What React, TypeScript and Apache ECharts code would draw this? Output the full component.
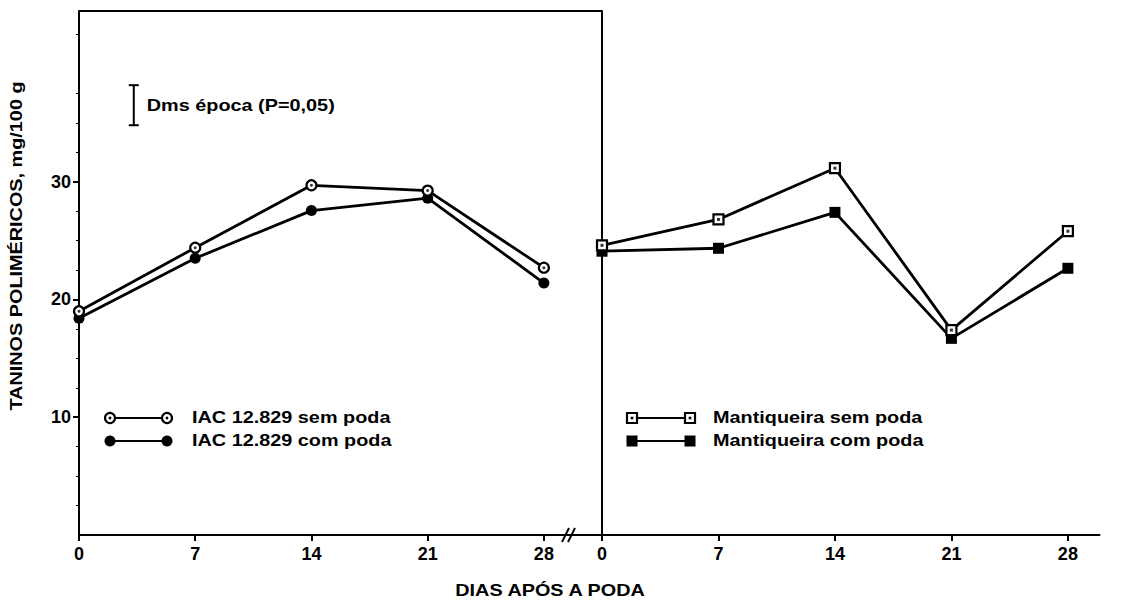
import { useEffect, useRef } from "react";
import * as echarts from "echarts";

// Sampling days after pruning
const days = [0, 7, 14, 21, 28];

// Polymeric tannins, mg/100 g
const iacSemPoda = [19.0, 24.4, 29.7, 29.25, 22.7];
const iacComPoda = [18.4, 23.5, 27.55, 28.6, 21.4];
const mantiqueiraSemPoda = [24.6, 26.8, 31.15, 17.4, 25.8];
const mantiqueiraComPoda = [24.1, 24.35, 27.4, 16.7, 22.65];

// Labelled ticks on the value axis
const yTickValues = [10, 20, 30];

// Least significant difference bar for sampling date (P=0.05)
const dmsBar = [[3.3, 34.8, 38.2]];

const yAxisTitle = "TANINOS POLIMÉRICOS, mg/100 g";
const xAxisTitle = "DIAS APÓS A PODA";
const dmsLabel = "Dms época (P=0,05)";
const legendIac = ["IAC 12.829 sem poda", "IAC 12.829 com poda"];
const legendMantiqueira = ["Mantiqueira sem poda", "Mantiqueira com poda"];

const FONT_FAMILY = '"Liberation Sans", Arial, Helvetica, sans-serif';
const TEXT_FONT = `bold 16px ${FONT_FAMILY}`;
const STRETCH = 1.24;
const BLACK = "#000";

const pairs = (vals: number[]) => days.map((d, i) => [d, vals[i]]);

const axisLabelStyle = {
  color: BLACK,
  fontFamily: FONT_FAMILY,
  fontWeight: "bold" as const,
  fontSize: 18,
};

function legendRow(
  x1: number,
  x2: number,
  y: number,
  label: string,
  textX: number,
  shape: "circle" | "rect",
  filled: boolean
) {
  const els: any[] = [
    {
      type: "line",
      shape: { x1, y1: y, x2, y2: y },
      style: { stroke: BLACK, lineWidth: 2 },
    },
  ];
  [x1, x2].forEach((cx) => {
    if (shape === "circle") {
      els.push({
        type: "circle",
        shape: { cx, cy: y, r: filled ? 5.5 : 5 },
        style: filled
          ? { fill: BLACK }
          : { fill: "#fff", stroke: BLACK, lineWidth: 2.2 },
      });
      if (!filled) {
        els.push({
          type: "circle",
          shape: { cx, cy: y, r: 1.4 },
          style: { fill: BLACK },
        });
      }
    } else {
      els.push({
        type: "rect",
        shape: filled
          ? { x: cx - 5.5, y: y - 5.5, width: 11, height: 11 }
          : { x: cx - 5, y: y - 5, width: 10, height: 10 },
        style: filled
          ? { fill: BLACK }
          : { fill: "#fff", stroke: BLACK, lineWidth: 2.2 },
      });
      if (!filled) {
        els.push({
          type: "rect",
          shape: { x: cx - 1.3, y: y - 1.3, width: 2.6, height: 2.6 },
          style: { fill: BLACK },
        });
      }
    }
  });
  els.push({
    type: "text",
    x: textX,
    y,
    scaleX: STRETCH,
    style: {
      text: label,
      font: TEXT_FONT,
      fill: BLACK,
      align: "left",
      textAlign: "left",
      verticalAlign: "middle",
      textVerticalAlign: "middle",
    },
  });
  return els;
}

export default function App() {
  const ref = useRef<HTMLDivElement>(null);

  useEffect(() => {
    if (!ref.current) return;
    const chart = echarts.init(ref.current, undefined, { renderer: "svg" });

    const xAxisBase = (gridIndex: number, max: number) => ({
      gridIndex,
      type: "value",
      min: 0,
      max,
      axisLine: { show: true, lineStyle: { color: BLACK, width: 2 } },
      axisTick: {
        show: true,
        customValues: days,
        length: 6,
        lineStyle: { color: BLACK, width: 2 },
      },
      axisLabel: { ...axisLabelStyle, customValues: days, margin: 10 },
      splitLine: { show: false },
    });

    const lineSeries = (
      axis: number,
      vals: number[],
      symbol: string,
      filled: boolean,
      z: number
    ) => ({
      type: "line",
      xAxisIndex: axis,
      yAxisIndex: axis,
      data: pairs(vals),
      symbol,
      symbolSize: filled ? 11 : 10,
      itemStyle: filled
        ? { color: BLACK }
        : { color: "#fff", borderColor: BLACK, borderWidth: 2.2 },
      lineStyle: { color: BLACK, width: 2.8 },
      z,
    });

    const centreDots = (axis: number, vals: number[], symbol: string) => ({
      type: "scatter",
      xAxisIndex: axis,
      yAxisIndex: axis,
      data: pairs(vals),
      symbol,
      symbolSize: 3,
      itemStyle: { color: BLACK },
      z: 5,
    });

    chart.setOption({
      animation: false,
      backgroundColor: "#fff",
      grid: [
        { left: 79, top: 11, width: 523, height: 524 },
        { left: 602, top: 11, width: 497.5, height: 524 },
      ],
      xAxis: [xAxisBase(0, 31.5), xAxisBase(1, 29.9)],
      yAxis: [
        {
          gridIndex: 0,
          type: "value",
          min: 0,
          max: 44.5,
          interval: 10,
          axisLine: { show: true, lineStyle: { color: BLACK, width: 2 } },
          axisTick: {
            show: true,
            customValues: yTickValues,
            length: 6,
            lineStyle: { color: BLACK, width: 2 },
          },
          minorTick: {
            show: true,
            splitNumber: 4,
            length: 3,
            lineStyle: { color: BLACK, width: 1 },
          },
          axisLabel: { ...axisLabelStyle, customValues: yTickValues, margin: 8 },
          splitLine: { show: false },
        },
        {
          gridIndex: 1,
          type: "value",
          min: 0,
          max: 44.5,
          axisLine: { show: true, lineStyle: { color: BLACK, width: 2 } },
          axisTick: { show: false },
          axisLabel: { show: false },
          splitLine: { show: false },
        },
      ],
      series: [
        lineSeries(0, iacComPoda, "circle", true, 2),
        lineSeries(0, iacSemPoda, "circle", false, 3),
        centreDots(0, iacSemPoda, "circle"),
        lineSeries(1, mantiqueiraComPoda, "rect", true, 2),
        lineSeries(1, mantiqueiraSemPoda, "rect", false, 3),
        centreDots(1, mantiqueiraSemPoda, "rect"),
        {
          type: "custom",
          xAxisIndex: 0,
          yAxisIndex: 0,
          data: dmsBar,
          z: 6,
          renderItem: (_params: any, api: any) => {
            const top = api.coord([api.value(0), api.value(2)]);
            const bot = api.coord([api.value(0), api.value(1)]);
            const cap = 5;
            const stroke = { stroke: BLACK, lineWidth: 2 };
            return {
              type: "group",
              children: [
                {
                  type: "line",
                  shape: { x1: top[0], y1: top[1], x2: bot[0], y2: bot[1] },
                  style: stroke,
                },
                {
                  type: "line",
                  shape: { x1: top[0] - cap, y1: top[1], x2: top[0] + cap, y2: top[1] },
                  style: stroke,
                },
                {
                  type: "line",
                  shape: { x1: bot[0] - cap, y1: bot[1], x2: bot[0] + cap, y2: bot[1] },
                  style: stroke,
                },
                {
                  type: "text",
                  x: top[0] + 13,
                  y: (top[1] + bot[1]) / 2,
                  scaleX: STRETCH,
                  style: {
                    text: dmsLabel,
                    font: TEXT_FONT,
                    fill: BLACK,
                    align: "left",
                    verticalAlign: "middle",
                  },
                },
              ],
            };
          },
        },
      ],
      graphic: [
        // upper frame of the left panel
        {
          type: "line",
          shape: { x1: 79, y1: 11, x2: 602, y2: 11 },
          style: { stroke: BLACK, lineWidth: 2 },
        },
        // axis break marks
        {
          type: "line",
          shape: { x1: 562, y1: 542, x2: 569, y2: 528 },
          style: { stroke: BLACK, lineWidth: 2 },
        },
        {
          type: "line",
          shape: { x1: 568, y1: 542, x2: 575, y2: 528 },
          style: { stroke: BLACK, lineWidth: 2 },
        },
        {
          type: "text",
          x: 17,
          y: 246,
          rotation: Math.PI / 2,
          scaleX: STRETCH,
          style: {
            text: yAxisTitle,
            font: TEXT_FONT,
            fill: BLACK,
            align: "center",
            textAlign: "center",
            verticalAlign: "middle",
            textVerticalAlign: "middle",
          },
        },
        {
          type: "text",
          x: 550,
          y: 591,
          scaleX: STRETCH,
          style: {
            text: xAxisTitle,
            font: TEXT_FONT,
            fill: BLACK,
            align: "center",
            textAlign: "center",
            verticalAlign: "middle",
            textVerticalAlign: "middle",
          },
        },
        ...legendRow(110, 167, 418, legendIac[0], 192, "circle", false),
        ...legendRow(110, 167, 441, legendIac[1], 192, "circle", true),
        ...legendRow(632, 690, 418, legendMantiqueira[0], 713, "rect", false),
        ...legendRow(632, 690, 441, legendMantiqueira[1], 713, "rect", true),
      ],
    });

    return () => chart.dispose();
  }, []);

  return (
    <div
      ref={ref}
      style={{ position: "absolute", left: 0, top: 0, width: 1130, height: 613 }}
    />
  );
}
